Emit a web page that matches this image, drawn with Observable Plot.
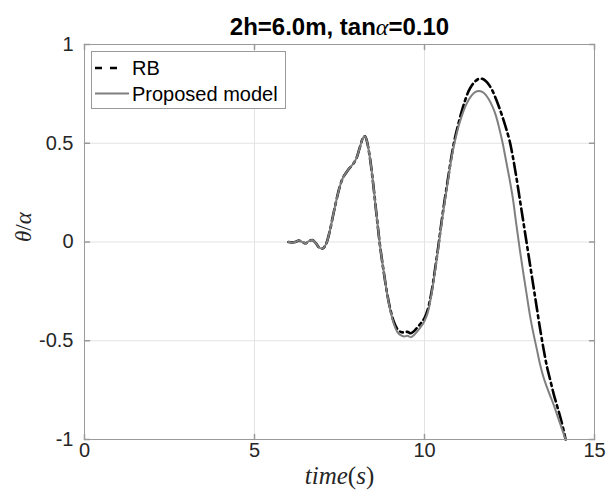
<!DOCTYPE html>
<html><head><meta charset="utf-8">
<script src="https://cdn.jsdelivr.net/npm/d3@7"></script>
<script src="https://cdn.jsdelivr.net/npm/@observablehq/plot@0.6"></script>
<style>body{margin:0;background:#fff}</style>
</head><body><div id="chart"></div>
<script>
const titleText = "2h=6.0m, tan\u03b1=0.10";
const xLabel = "time(s)";
const yLabel = "\u03b8/\u03b1";
const seriesNames = ["RB", "Proposed model"];
const xTicks = [0, 5, 10, 15];
const yTicks = [-1, -0.5, 0, 0.5, 1];
const yTickLabels = ["-1", "-0.5", "0", "0.5", "1"];

const time = [6.0, 6.1, 6.2, 6.3, 6.4, 6.5, 6.6, 6.7, 6.8, 6.9, 7.0, 7.1, 7.2, 7.3, 7.4, 7.5, 7.6, 7.7, 7.8, 7.9,
  8.0, 8.1, 8.2, 8.25, 8.3, 8.4, 8.5, 8.6, 8.7, 8.8, 8.9, 9.0, 9.1, 9.2, 9.3, 9.4, 9.5, 9.6, 9.7, 9.8, 9.9,
  10.0, 10.1, 10.2, 10.3, 10.4, 10.5, 10.6, 10.7, 10.8, 10.9, 11.0, 11.1, 11.2, 11.3, 11.4, 11.5, 11.6, 11.7, 11.8, 11.9,
  12.0, 12.1, 12.2, 12.3, 12.4, 12.5, 12.6, 12.7, 12.8, 12.9, 13.0, 13.1, 13.2, 13.3, 13.4, 13.5, 13.6, 13.7, 13.8, 13.9,
  14.0, 14.1, 14.15];

const rb = [0.0, -0.002, 0.0, 0.007, 0.0, -0.006, 0.004, 0.01, -0.005, -0.028, -0.033, -0.012, 0.045, 0.125, 0.205, 0.275, 0.325, 0.352, 0.375, 0.395,
  0.425, 0.48, 0.53, 0.535, 0.515, 0.42, 0.28, 0.12, -0.03, -0.15, -0.26, -0.345, -0.405, -0.44, -0.455, -0.458, -0.455, -0.462, -0.45, -0.43, -0.41,
  -0.385, -0.34, -0.26, -0.15, -0.03, 0.1, 0.22, 0.33, 0.44, 0.53, 0.6, 0.665, 0.72, 0.765, 0.795, 0.815, 0.826, 0.826, 0.815, 0.795,
  0.765, 0.725, 0.68, 0.63, 0.575, 0.515, 0.43, 0.33, 0.22, 0.11, 0.0, -0.11, -0.22, -0.33, -0.44, -0.54, -0.63, -0.70, -0.77, -0.83,
  -0.89, -0.96, -1.0];

const proposed = [0.0, -0.002, 0.0, 0.007, 0.0, -0.006, 0.004, 0.01, -0.005, -0.028, -0.033, -0.012, 0.045, 0.125, 0.205, 0.275, 0.325, 0.352, 0.375, 0.395,
  0.425, 0.48, 0.53, 0.535, 0.515, 0.42, 0.28, 0.12, -0.03, -0.15, -0.262, -0.35, -0.415, -0.455, -0.472, -0.478, -0.475, -0.482, -0.47, -0.45, -0.428,
  -0.40, -0.355, -0.27, -0.16, -0.04, 0.09, 0.21, 0.32, 0.43, 0.515, 0.585, 0.64, 0.685, 0.72, 0.745, 0.76, 0.765, 0.76, 0.745, 0.72,
  0.685, 0.64, 0.575, 0.5, 0.41, 0.32, 0.22, 0.09, -0.035, -0.15, -0.26, -0.37, -0.46, -0.54, -0.62, -0.685, -0.735, -0.78, -0.825, -0.875,
  -0.925, -0.975, -1.0];

const rbData = time.map((t, i) => ({t, v: rb[i]}));
const pmData = time.map((t, i) => ({t, v: proposed[i]}));

const tickShape = {draw(context, l) { context.moveTo(0, 0); context.lineTo(0, -l); }};
const axisGray = "#9a9a9a";
const textColor = "#262626";
const sans = "Arial, 'Liberation Sans', Helvetica, sans-serif";
const serif = "'Liberation Serif', 'DejaVu Serif', serif";

const plot = Plot.plot({
  width: 608, height: 500,
  marginLeft: 84, marginRight: 14, marginTop: 44, marginBottom: 61,
  style: {fontFamily: sans, fontSize: "20px", color: textColor, background: "#fff"},
  x: {domain: [0, 15], label: null},
  y: {domain: [-1, 1], label: null},
  marks: [
    Plot.gridX(xTicks, {stroke: "#e3e3e3", strokeOpacity: 1}),
    Plot.gridY(yTicks, {stroke: "#e3e3e3", strokeOpacity: 1}),
    Plot.line(rbData, {x: "t", y: "v", stroke: "#000", strokeWidth: 2.6, strokeDasharray: "12,4,3,4", curve: "catmull-rom"}),
    Plot.line(pmData, {x: "t", y: "v", stroke: "#7f7f7f", strokeWidth: 2, curve: "catmull-rom"}),
    Plot.frame({stroke: axisGray}),
    Plot.vector(xTicks, {x: d => d, frameAnchor: "bottom", length: 5, rotate: 0, anchor: "start", shape: tickShape, stroke: axisGray}),
    Plot.vector(xTicks, {x: d => d, frameAnchor: "top", length: 5, rotate: 180, anchor: "start", shape: tickShape, stroke: axisGray}),
    Plot.vector(yTicks, {y: d => d, frameAnchor: "left", length: 5, rotate: 90, anchor: "start", shape: tickShape, stroke: axisGray}),
    Plot.vector(yTicks, {y: d => d, frameAnchor: "right", length: 5, rotate: -90, anchor: "start", shape: tickShape, stroke: axisGray}),
    Plot.axisX(xTicks, {tickSize: 0, tickPadding: 3, tickFormat: d => String(d), fill: textColor, fontSize: 20, label: null}),
    Plot.axisY(yTicks, {tickSize: 0, tickPadding: 11, tickFormat: (d, i) => yTickLabels[i], fill: textColor, fontSize: 20, label: null}),
    Plot.text([titleText], {frameAnchor: "top", dy: -27, fontWeight: "bold", fontSize: 24, fill: "#000"}),
    Plot.text([xLabel], {frameAnchor: "bottom", dy: 44, fontFamily: serif, fontSize: 25, fill: textColor}),
    Plot.text([yLabel], {frameAnchor: "left", dx: -61, rotate: -90, fontFamily: serif, fontSize: 23, fill: textColor})
  ]
});

const svg = d3.select(plot);
// TeX-like styling of symbols inside the labels
function restyle(str, parts) {
  svg.selectAll("text").filter(function() { return this.textContent === str; }).each(function() {
    const el = d3.select(this);
    el.text(null);
    parts.forEach(([s, style]) => {
      const ts = el.append("tspan").text(s);
      if (style === "i") ts.attr("font-style", "italic").attr("font-family", serif).attr("font-weight", "normal");
      if (style === "u") ts.attr("font-family", serif);
    });
  });
}
restyle(titleText, [["2h=6.0m, tan", null], ["\u03b1", "i"], ["=0.10", null]]);
restyle(xLabel, [["time", "i"], ["(", "u"], ["s", "i"], [")", "u"]]);
restyle(yLabel, [["\u03b8", "i"], ["/", "u"], ["\u03b1", "i"]]);

// Legend
const lg = svg.append("g").attr("font-family", sans).attr("font-size", 20).attr("text-anchor", "start");
lg.append("rect").attr("x", 91.5).attr("y", 51.5).attr("width", 194).attr("height", 57).attr("fill", "#fff").attr("stroke", axisGray);
lg.append("line").attr("x1", 95).attr("x2", 120).attr("y1", 68).attr("y2", 68).attr("stroke", "#000").attr("stroke-width", 2.6).attr("stroke-dasharray", "7,8");
lg.append("line").attr("x1", 95).attr("x2", 129).attr("y1", 93.5).attr("y2", 93.5).attr("stroke", "#7f7f7f").attr("stroke-width", 2);
lg.append("text").attr("x", 132).attr("y", 75).attr("fill", "#000").text(seriesNames[0]);
lg.append("text").attr("x", 132).attr("y", 101).attr("fill", "#000").text(seriesNames[1]);

document.getElementById("chart").appendChild(plot);
</script>
</body></html>
